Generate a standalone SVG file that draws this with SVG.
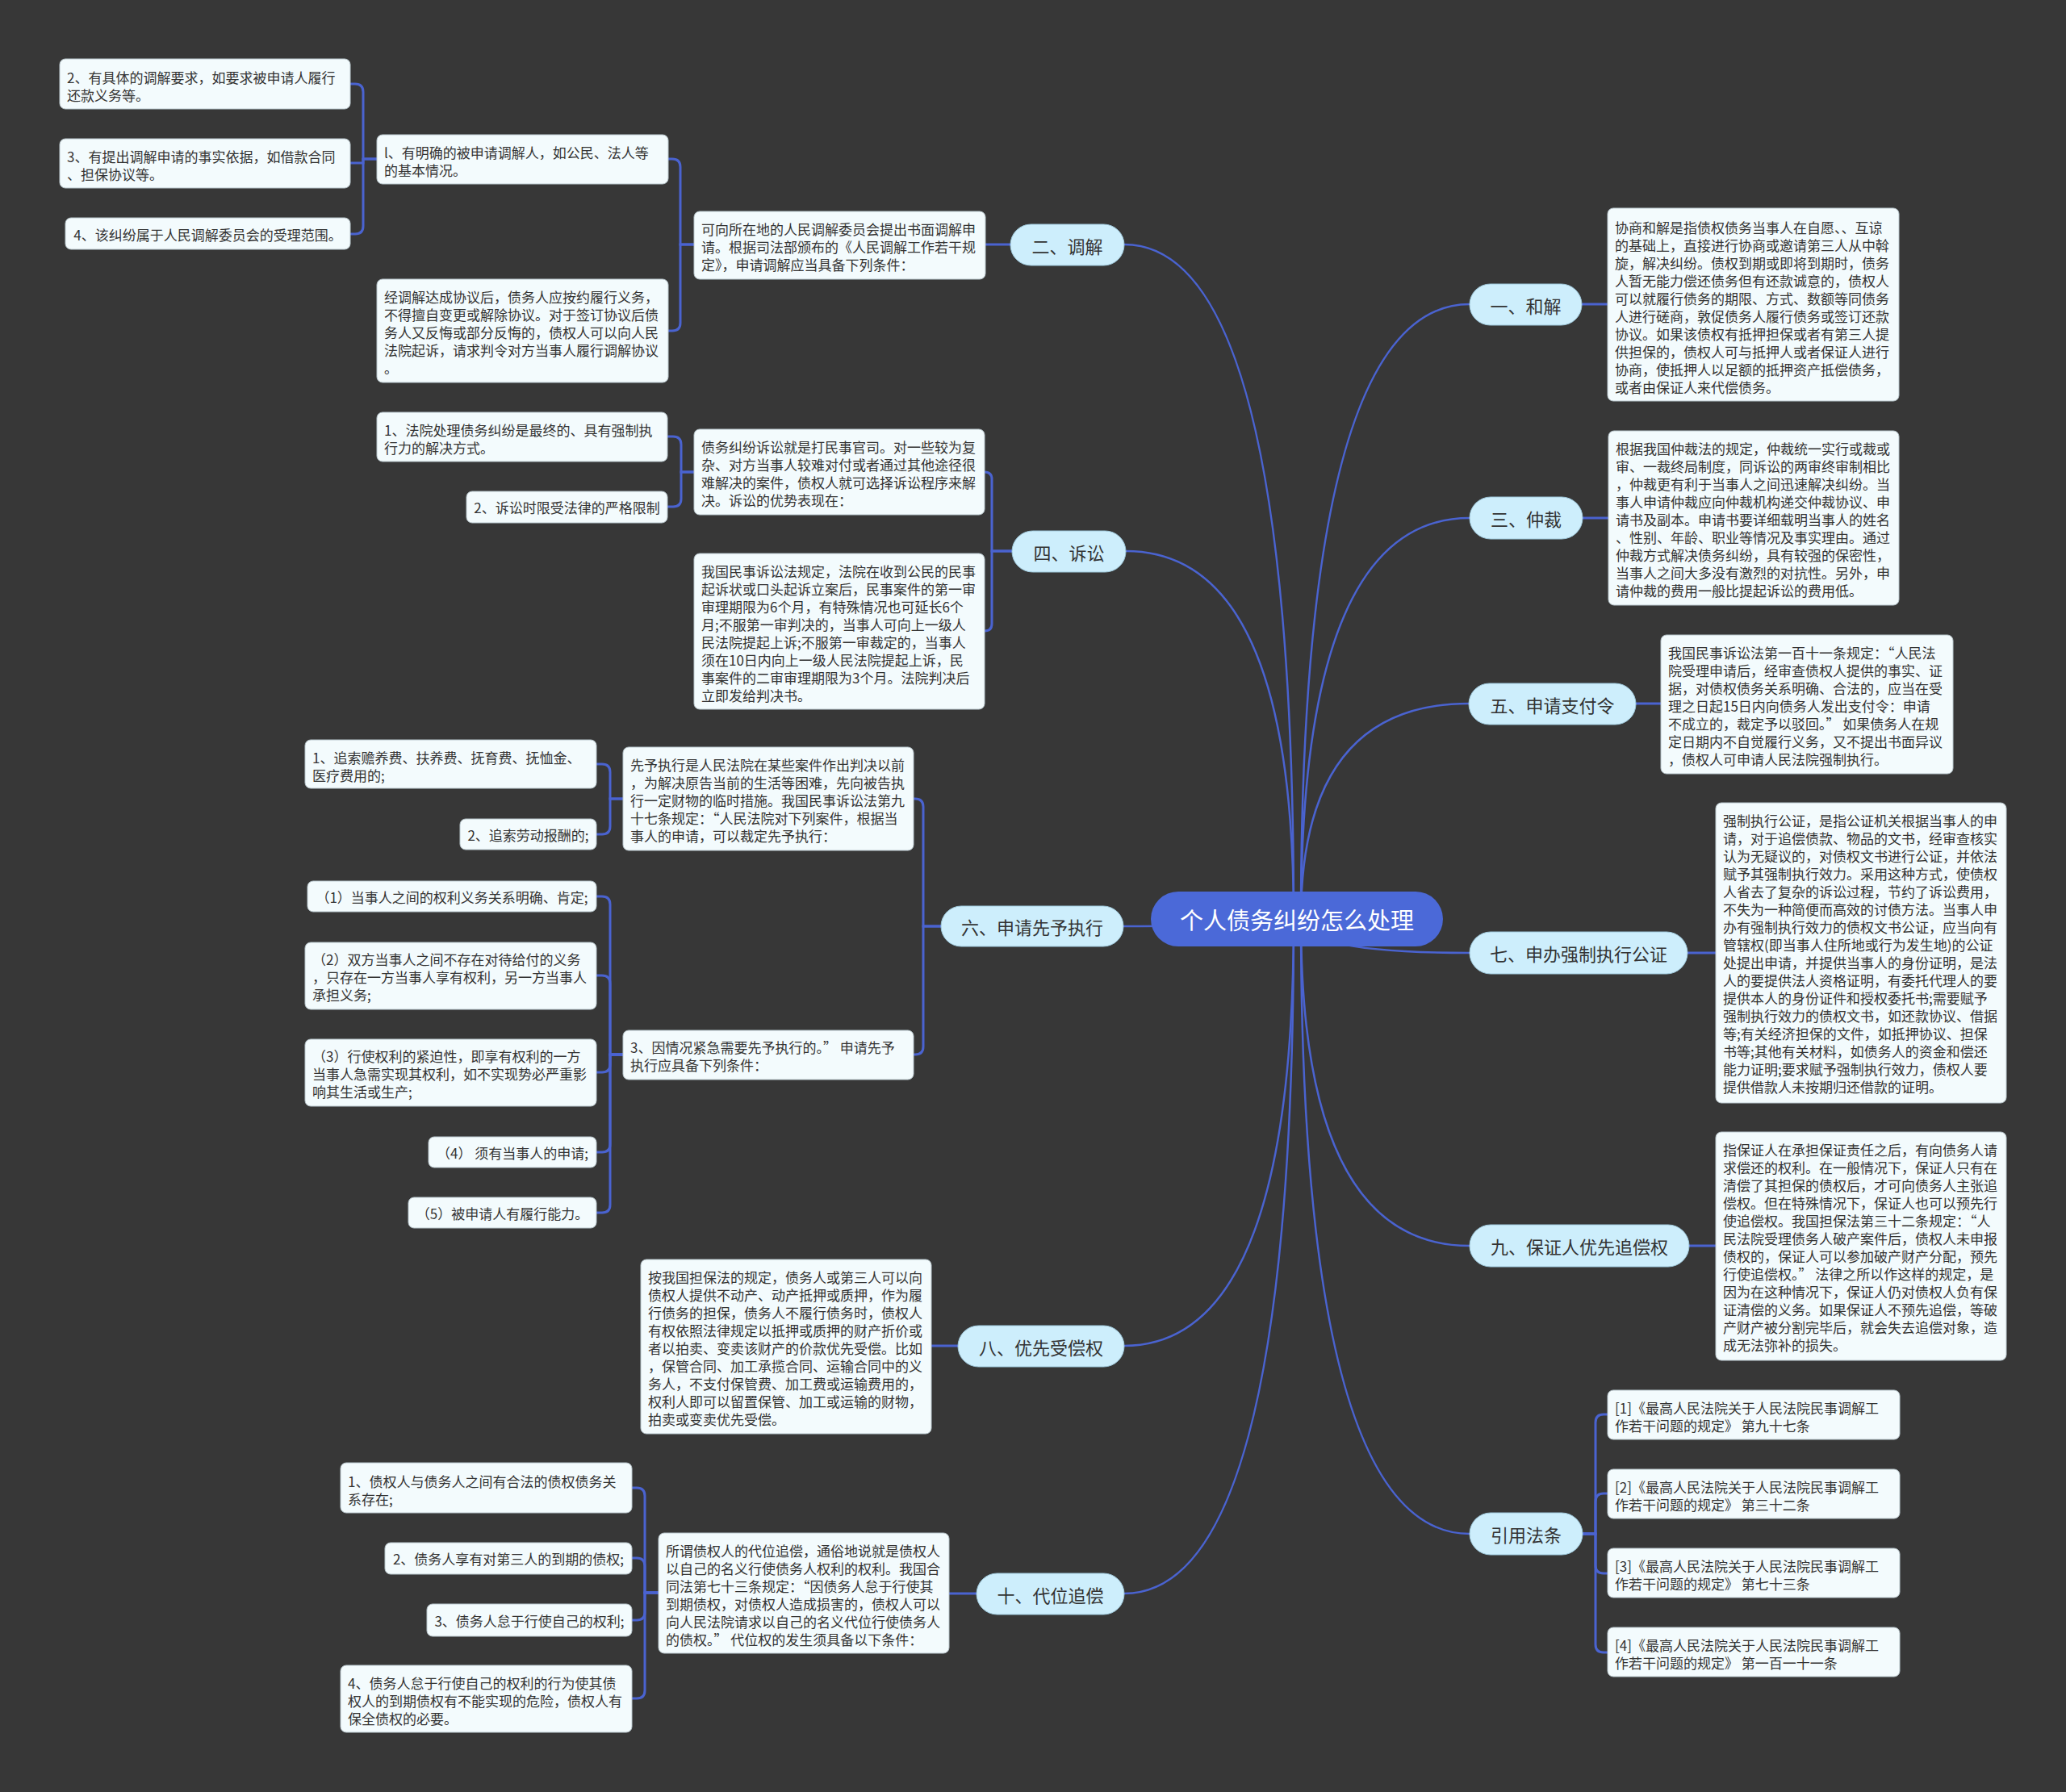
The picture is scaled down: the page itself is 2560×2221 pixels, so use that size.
<svg xmlns="http://www.w3.org/2000/svg" width="2560" height="2221" viewBox="0 0 2560 2221">
<style>
text{font-family:"Noto Sans CJK SC","Noto Sans",sans-serif;}
.box{fill:#f3fbfd;stroke:#b9c7cd;stroke-width:1;}
.t{font-size:17px;fill:#333;dominant-baseline:central;}
.tc{font-size:17px;fill:#333;dominant-baseline:central;text-anchor:middle;}
.n1{fill:#cdeefc;stroke:#9fc9dc;stroke-width:1;}
.nt{font-size:22px;fill:#333;dominant-baseline:central;text-anchor:middle;}
.root{fill:#4b69d8;}
.rt{font-size:29px;fill:#fff;dominant-baseline:central;text-anchor:middle;}
.ln{fill:none;stroke:#4a63d0;stroke-width:3;stroke-linecap:round;}
.mc{fill:none;stroke:#4a63d0;stroke-width:2.5;}
</style>
<rect width="2560" height="2221" fill="#373737"/>

<g id="connectors">
<path class="mc" d="M1603 1139 Q1603 303 1393 303"/>
<path class="mc" d="M1603 1139 Q1603 683 1395 683"/>
<path class="mc" d="M1603 1139 Q1603 1148 1392 1148"/>
<path class="mc" d="M1603 1139 Q1603 1668 1393 1668"/>
<path class="mc" d="M1603 1139 Q1603 1975 1393 1975"/>
<path class="mc" d="M1612 1139 Q1612 377 1821 377"/>
<path class="mc" d="M1612 1139 Q1612 642 1821 642"/>
<path class="mc" d="M1612 1139 Q1612 872 1820 872"/>
<path class="mc" d="M1612 1139 Q1612 1181 1821 1181"/>
<path class="mc" d="M1612 1139 Q1612 1544 1821 1544"/>
<path class="mc" d="M1612 1139 Q1612 1901 1821 1901"/>

<path class="ln" d="M467 197 H450 V114 Q450 104 440 104 H434"/>
<path class="ln" d="M450 197 V202 H434"/>
<path class="ln" d="M467 197 H450 V280 Q450 290 440 290 H434"/>

<path class="ln" d="M860 303 H843 V207 Q843 197 833 197 H828"/>
<path class="ln" d="M860 303 H843 V400 Q843 410 833 410 H828"/>
<path class="ln" d="M1252 303 H1221"/>

<path class="ln" d="M1254 683 H1229 V594 Q1229 585 1220 585"/>
<path class="ln" d="M1254 683 H1229 V773 Q1229 782 1220 782"/>
<path class="ln" d="M860 585 H844 V551 Q844 541 834 541 H827"/>
<path class="ln" d="M860 585 H844 V618 Q844 628 834 628 H827"/>

<path class="ln" d="M1166 1148 H1144 V1000 Q1144 990 1134 990 H1132"/>
<path class="ln" d="M1166 1148 H1144 V1297 Q1144 1307 1134 1307 H1132"/>
<path class="ln" d="M772 990 H756 V957 Q756 947 746 947 H739"/>
<path class="ln" d="M772 990 H756 V1024 Q756 1034 746 1034 H739"/>
<path class="ln" d="M772 1307 H756 V1121 Q756 1111 746 1111 H739"/>
<path class="ln" d="M772 1307 H756 V1219 Q756 1209 746 1209 H739"/>
<path class="ln" d="M772 1307 H756 V1319 Q756 1329 746 1329 H739"/>
<path class="ln" d="M772 1307 H756 V1418 Q756 1428 746 1428 H739"/>
<path class="ln" d="M772 1307 H756 V1493 Q756 1503 746 1503 H739"/>

<path class="ln" d="M1187 1668 H1154"/>
<path class="ln" d="M1210 1975 H1176"/>
<path class="ln" d="M816 1974 H799 V1854 Q799 1844 789 1844 H783"/>
<path class="ln" d="M816 1974 H799 V1941 Q799 1931 789 1931 H783"/>
<path class="ln" d="M816 1974 H799 V1998 Q799 2008 789 2008 H783"/>
<path class="ln" d="M816 1974 H799 V2095 Q799 2105 789 2105 H783"/>

<path class="ln" d="M1960 377 H1992"/>
<path class="ln" d="M1961 642 H1993"/>
<path class="ln" d="M2027 872 H2058"/>
<path class="ln" d="M2091 1181 H2126"/>
<path class="ln" d="M2093 1544 H2126"/>
<path class="ln" d="M1961 1901 H1977 V1763 Q1977 1753 1987 1753 H1992"/>
<path class="ln" d="M1961 1901 H1977 V1861 Q1977 1851 1987 1851 H1992"/>
<path class="ln" d="M1961 1901 H1977 V1940 Q1977 1950 1987 1950 H1992"/>
<path class="ln" d="M1961 1901 H1977 V2038 Q1977 2048 1987 2048 H1992"/>
</g>

<g id="root">
<rect class="root" x="1426" y="1105" width="362" height="68" rx="34"/>
<text class="rt" x="1607" y="1139">个人债务纠纷怎么处理</text>
</g>

<g id="n-hejie"><rect class="n1" x="1821" y="352" width="139" height="51" rx="25.5"/><text class="nt" x="1890.5" y="377.5">一、和解</text></g>
<g id="n-tiaojie"><rect class="n1" x="1252" y="278" width="141" height="51" rx="25.5"/><text class="nt" x="1322.5" y="303.5">二、调解</text></g>
<g id="n-zhongcai"><rect class="n1" x="1821" y="616" width="140" height="52" rx="26"/><text class="nt" x="1891" y="642">三、仲裁</text></g>
<g id="n-susong"><rect class="n1" x="1254" y="658" width="141" height="51" rx="25.5"/><text class="nt" x="1324.5" y="683.5">四、诉讼</text></g>
<g id="n-zhifuling"><rect class="n1" x="1820" y="847" width="207" height="51" rx="25.5"/><text class="nt" x="1923.5" y="872.5">五、申请支付令</text></g>
<g id="n-xianyu"><rect class="n1" x="1166" y="1123" width="226" height="50" rx="25"/><text class="nt" x="1279" y="1148">六、申请先予执行</text></g>
<g id="n-gongzheng"><rect class="n1" x="1821" y="1155" width="270" height="52" rx="26"/><text class="nt" x="1956" y="1181">七、申办强制执行公证</text></g>
<g id="n-youxian"><rect class="n1" x="1187" y="1643" width="206" height="51" rx="25.5"/><text class="nt" x="1290" y="1668.5">八、优先受偿权</text></g>
<g id="n-baozheng"><rect class="n1" x="1821" y="1518" width="272" height="52" rx="26"/><text class="nt" x="1957" y="1544">九、保证人优先追偿权</text></g>
<g id="n-daiwei"><rect class="n1" x="1210" y="1950" width="183" height="51" rx="25.5"/><text class="nt" x="1301.5" y="1975.5">十、代位追偿</text></g>
<g id="n-fatiao"><rect class="n1" x="1821" y="1875" width="140" height="52" rx="26"/><text class="nt" x="1891" y="1901">引用法条</text></g>

<g id="b-a1"><rect class="box" x="74" y="73" width="360" height="62" rx="7"/>
<text class="t" x="83" y="95">2、有具体的调解要求，如要求被申请人履行</text>
<text class="t" x="83" y="117">还款义务等。</text></g>
<g id="b-a2"><rect class="box" x="74" y="172" width="360" height="61" rx="7"/>
<text class="t" x="83" y="193">3、有提出调解申请的事实依据，如借款合同</text>
<text class="t" x="83" y="215">、担保协议等。</text></g>
<g id="b-a3"><rect class="box" x="81" y="270" width="353" height="39" rx="7"/>
<text class="tc" x="257.5" y="290">4、该纠纷属于人民调解委员会的受理范围。</text></g>
<g id="b-ai"><rect class="box" x="467" y="167" width="361" height="61" rx="7"/>
<text class="t" x="476" y="188">l、有明确的被申请调解人，如公民、法人等</text>
<text class="t" x="476" y="210">的基本情况。</text></g>
<g id="b-b"><rect class="box" x="467" y="346" width="361" height="128" rx="7"/>
<text class="t" x="476" y="367">经调解达成协议后，债务人应按约履行义务，</text>
<text class="t" x="476" y="389">不得擅自变更或解除协议。对于签订协议后债</text>
<text class="t" x="476" y="411">务人又反悔或部分反悔的，债权人可以向人民</text>
<text class="t" x="476" y="433">法院起诉，请求判令对方当事人履行调解协议</text>
<text class="t" x="476" y="455">。</text></g>
<g id="b-c"><rect class="box" x="860" y="262" width="361" height="84" rx="7"/>
<text class="t" x="869" y="283">可向所在地的人民调解委员会提出书面调解申</text>
<text class="t" x="869" y="305">请。根据司法部颁布的《人民调解工作若干规</text>
<text class="t" x="869" y="327">定》，申请调解应当具备下列条件：</text></g>

<g id="b-d1"><rect class="box" x="467" y="511" width="360" height="61" rx="7"/>
<text class="t" x="476" y="532">1、法院处理债务纠纷是最终的、具有强制执</text>
<text class="t" x="476" y="554">行力的解决方式。</text></g>
<g id="b-d2"><rect class="box" x="578" y="609" width="249" height="39" rx="7"/>
<text class="tc" x="702.5" y="628.5">2、诉讼时限受法律的严格限制</text></g>
<g id="b-e"><rect class="box" x="860" y="532" width="360" height="106" rx="7"/>
<text class="t" x="869" y="553">债务纠纷诉讼就是打民事官司。对一些较为复</text>
<text class="t" x="869" y="575">杂、对方当事人较难对付或者通过其他途径很</text>
<text class="t" x="869" y="597">难解决的案件，债权人就可选择诉讼程序来解</text>
<text class="t" x="869" y="619">决。诉讼的优势表现在：</text></g>
<g id="b-f"><rect class="box" x="860" y="686" width="360" height="193" rx="7"/>
<text class="t" x="869" y="707">我国民事诉讼法规定，法院在收到公民的民事</text>
<text class="t" x="869" y="729">起诉状或口头起诉立案后，民事案件的第一审</text>
<text class="t" x="869" y="751">审理期限为6个月，有特殊情况也可延长6个</text>
<text class="t" x="869" y="773">月;不服第一审判决的，当事人可向上一级人</text>
<text class="t" x="869" y="795">民法院提起上诉;不服第一审裁定的，当事人</text>
<text class="t" x="869" y="817">须在10日内向上一级人民法院提起上诉，民</text>
<text class="t" x="869" y="839">事案件的二审审理期限为3个月。法院判决后</text>
<text class="t" x="869" y="861">立即发给判决书。</text></g>

<g id="b-g1"><rect class="box" x="378" y="917" width="361" height="60" rx="7"/>
<text class="t" x="387" y="938">1、追索赡养费、扶养费、抚育费、抚恤金、</text>
<text class="t" x="387" y="960">医疗费用的;</text></g>
<g id="b-g2"><rect class="box" x="570" y="1015" width="169" height="38" rx="7"/>
<text class="tc" x="654.5" y="1034">2、追索劳动报酬的;</text></g>
<g id="b-h"><rect class="box" x="772" y="926" width="360" height="128" rx="7"/>
<text class="t" x="781" y="947">先予执行是人民法院在某些案件作出判决以前</text>
<text class="t" x="781" y="969">，为解决原告当前的生活等困难，先向被告执</text>
<text class="t" x="781" y="991">行一定财物的临时措施。我国民事诉讼法第九</text>
<text class="t" x="781" y="1013">十七条规定：“人民法院对下列案件，根据当</text>
<text class="t" x="781" y="1035">事人的申请，可以裁定先予执行：</text></g>
<g id="b-i1"><rect class="box" x="381" y="1092" width="358" height="38" rx="7"/>
<text class="tc" x="560" y="1111">（1）当事人之间的权利义务关系明确、肯定;</text></g>
<g id="b-i2"><rect class="box" x="378" y="1168" width="361" height="83" rx="7"/>
<text class="t" x="387" y="1188">（2）双方当事人之间不存在对待给付的义务</text>
<text class="t" x="387" y="1210">，只存在一方当事人享有权利，另一方当事人</text>
<text class="t" x="387" y="1232">承担义务;</text></g>
<g id="b-i3"><rect class="box" x="378" y="1288" width="361" height="83" rx="7"/>
<text class="t" x="387" y="1308">（3）行使权利的紧迫性，即享有权利的一方</text>
<text class="t" x="387" y="1330">当事人急需实现其权利，如不实现势必严重影</text>
<text class="t" x="387" y="1352">响其生活或生产;</text></g>
<g id="b-i4"><rect class="box" x="531" y="1409" width="208" height="38" rx="7"/>
<text class="tc" x="635" y="1428">（4） 须有当事人的申请;</text></g>
<g id="b-i5"><rect class="box" x="506" y="1484" width="233" height="38" rx="7"/>
<text class="tc" x="622.5" y="1503">（5）被申请人有履行能力。</text></g>
<g id="b-j"><rect class="box" x="772" y="1277" width="360" height="61" rx="7"/>
<text class="t" x="781" y="1297">3、因情况紧急需要先予执行的。” 申请先予</text>
<text class="t" x="781" y="1319">执行应具备下列条件：</text></g>

<g id="b-k"><rect class="box" x="794" y="1561" width="360" height="216" rx="7"/>
<text class="t" x="803" y="1582">按我国担保法的规定，债务人或第三人可以向</text>
<text class="t" x="803" y="1604">债权人提供不动产、动产抵押或质押，作为履</text>
<text class="t" x="803" y="1626">行债务的担保，债务人不履行债务时，债权人</text>
<text class="t" x="803" y="1648">有权依照法律规定以抵押或质押的财产折价或</text>
<text class="t" x="803" y="1670">者以拍卖、变卖该财产的价款优先受偿。比如</text>
<text class="t" x="803" y="1692">，保管合同、加工承揽合同、运输合同中的义</text>
<text class="t" x="803" y="1714">务人，不支付保管费、加工费或运输费用的，</text>
<text class="t" x="803" y="1736">权利人即可以留置保管、加工或运输的财物，</text>
<text class="t" x="803" y="1758">拍卖或变卖优先受偿。</text></g>

<g id="b-l1"><rect class="box" x="422" y="1813" width="361" height="62" rx="7"/>
<text class="t" x="431" y="1835">1、债权人与债务人之间有合法的债权债务关</text>
<text class="t" x="431" y="1857">系存在;</text></g>
<g id="b-l2"><rect class="box" x="477" y="1912" width="306" height="39" rx="7"/>
<text class="tc" x="630" y="1931.5">2、债务人享有对第三人的到期的债权;</text></g>
<g id="b-l3"><rect class="box" x="529" y="1988" width="254" height="40" rx="7"/>
<text class="tc" x="656" y="2008">3、债务人怠于行使自己的权利;</text></g>
<g id="b-l4"><rect class="box" x="422" y="2064" width="361" height="83" rx="7"/>
<text class="t" x="431" y="2085">4、债务人怠于行使自己的权利的行为使其债</text>
<text class="t" x="431" y="2107">权人的到期债权有不能实现的危险，债权人有</text>
<text class="t" x="431" y="2129">保全债权的必要。</text></g>
<g id="b-m"><rect class="box" x="816" y="1900" width="360" height="149" rx="7"/>
<text class="t" x="825" y="1921">所谓债权人的代位追偿，通俗地说就是债权人</text>
<text class="t" x="825" y="1943">以自己的名义行使债务人权利的权利。我国合</text>
<text class="t" x="825" y="1965">同法第七十三条规定：“因债务人怠于行使其</text>
<text class="t" x="825" y="1987">到期债权，对债权人造成损害的，债权人可以</text>
<text class="t" x="825" y="2009">向人民法院请求以自己的名义代位行使债务人</text>
<text class="t" x="825" y="2031">的债权。” 代位权的发生须具备以下条件：</text></g>

<g id="b-n"><rect class="box" x="1992" y="258" width="361" height="239" rx="7"/>
<text class="t" x="2001" y="281">协商和解是指债权债务当事人在自愿、、互谅</text>
<text class="t" x="2001" y="303">的基础上，直接进行协商或邀请第三人从中斡</text>
<text class="t" x="2001" y="325">旋，解决纠纷。债权到期或即将到期时，债务</text>
<text class="t" x="2001" y="347">人暂无能力偿还债务但有还款诚意的，债权人</text>
<text class="t" x="2001" y="369">可以就履行债务的期限、方式、数额等同债务</text>
<text class="t" x="2001" y="391">人进行磋商，敦促债务人履行债务或签订还款</text>
<text class="t" x="2001" y="413">协议。如果该债权有抵押担保或者有第三人提</text>
<text class="t" x="2001" y="435">供担保的，债权人可与抵押人或者保证人进行</text>
<text class="t" x="2001" y="457">协商，使抵押人以足额的抵押资产抵偿债务，</text>
<text class="t" x="2001" y="479">或者由保证人来代偿债务。</text></g>

<g id="b-o"><rect class="box" x="1993" y="534" width="360" height="216" rx="7"/>
<text class="t" x="2002" y="555">根据我国仲裁法的规定，仲裁统一实行或裁或</text>
<text class="t" x="2002" y="577">审、一裁终局制度，同诉讼的两审终审制相比</text>
<text class="t" x="2002" y="599">，仲裁更有利于当事人之间迅速解决纠纷。当</text>
<text class="t" x="2002" y="621">事人申请仲裁应向仲裁机构递交仲裁协议、申</text>
<text class="t" x="2002" y="643">请书及副本。申请书要详细载明当事人的姓名</text>
<text class="t" x="2002" y="665">、性别、年龄、职业等情况及事实理由。通过</text>
<text class="t" x="2002" y="687">仲裁方式解决债务纠纷，具有较强的保密性，</text>
<text class="t" x="2002" y="709">当事人之间大多没有激烈的对抗性。另外，申</text>
<text class="t" x="2002" y="731">请仲裁的费用一般比提起诉讼的费用低。</text></g>

<g id="b-p"><rect class="box" x="2058" y="787" width="362" height="172" rx="7"/>
<text class="t" x="2067" y="808">我国民事诉讼法第一百十一条规定：“人民法</text>
<text class="t" x="2067" y="830">院受理申请后，经审查债权人提供的事实、证</text>
<text class="t" x="2067" y="852">据，对债权债务关系明确、合法的，应当在受</text>
<text class="t" x="2067" y="874">理之日起15日内向债务人发出支付令：申请</text>
<text class="t" x="2067" y="896">不成立的，裁定予以驳回。” 如果债务人在规</text>
<text class="t" x="2067" y="918">定日期内不自觉履行义务，又不提出书面异议</text>
<text class="t" x="2067" y="940">，债权人可申请人民法院强制执行。</text></g>

<g id="b-q"><rect class="box" x="2126" y="995" width="360" height="372" rx="7"/>
<text class="t" x="2135" y="1016">强制执行公证，是指公证机关根据当事人的申</text>
<text class="t" x="2135" y="1038">请，对于追偿债款、物品的文书，经审查核实</text>
<text class="t" x="2135" y="1060">认为无疑议的，对债权文书进行公证，并依法</text>
<text class="t" x="2135" y="1082">赋予其强制执行效力。采用这种方式，使债权</text>
<text class="t" x="2135" y="1104">人省去了复杂的诉讼过程，节约了诉讼费用，</text>
<text class="t" x="2135" y="1126">不失为一种简便而高效的讨债方法。当事人申</text>
<text class="t" x="2135" y="1148">办有强制执行效力的债权文书公证，应当向有</text>
<text class="t" x="2135" y="1170">管辖权(即当事人住所地或行为发生地)的公证</text>
<text class="t" x="2135" y="1192">处提出申请，并提供当事人的身份证明，是法</text>
<text class="t" x="2135" y="1214">人的要提供法人资格证明，有委托代理人的要</text>
<text class="t" x="2135" y="1236">提供本人的身份证件和授权委托书;需要赋予</text>
<text class="t" x="2135" y="1258">强制执行效力的债权文书，如还款协议、借据</text>
<text class="t" x="2135" y="1280">等;有关经济担保的文件，如抵押协议、担保</text>
<text class="t" x="2135" y="1302">书等;其他有关材料，如债务人的资金和偿还</text>
<text class="t" x="2135" y="1324">能力证明;要求赋予强制执行效力，债权人要</text>
<text class="t" x="2135" y="1346">提供借款人未按期归还借款的证明。</text></g>

<g id="b-r"><rect class="box" x="2126" y="1403" width="360" height="283" rx="7"/>
<text class="t" x="2135" y="1424">指保证人在承担保证责任之后，有向债务人请</text>
<text class="t" x="2135" y="1446">求偿还的权利。在一般情况下，保证人只有在</text>
<text class="t" x="2135" y="1468">清偿了其担保的债权后，才可向债务人主张追</text>
<text class="t" x="2135" y="1490">偿权。但在特殊情况下，保证人也可以预先行</text>
<text class="t" x="2135" y="1512">使追偿权。我国担保法第三十二条规定：“人</text>
<text class="t" x="2135" y="1534">民法院受理债务人破产案件后，债权人未申报</text>
<text class="t" x="2135" y="1556">债权的，保证人可以参加破产财产分配，预先</text>
<text class="t" x="2135" y="1578">行使追偿权。” 法律之所以作这样的规定，是</text>
<text class="t" x="2135" y="1600">因为在这种情况下，保证人仍对债权人负有保</text>
<text class="t" x="2135" y="1622">证清偿的义务。如果保证人不预先追偿，等破</text>
<text class="t" x="2135" y="1644">产财产被分割完毕后，就会失去追偿对象，造</text>
<text class="t" x="2135" y="1666">成无法弥补的损失。</text></g>

<g id="b-s1"><rect class="box" x="1992" y="1723" width="362" height="61" rx="7"/>
<text class="t" x="2001" y="1744">[1]《最高人民法院关于人民法院民事调解工</text>
<text class="t" x="2001" y="1766">作若干问题的规定》 第九十七条</text></g>
<g id="b-s2"><rect class="box" x="1992" y="1821" width="362" height="61" rx="7"/>
<text class="t" x="2001" y="1842">[2]《最高人民法院关于人民法院民事调解工</text>
<text class="t" x="2001" y="1864">作若干问题的规定》 第三十二条</text></g>
<g id="b-s3"><rect class="box" x="1992" y="1919" width="362" height="61" rx="7"/>
<text class="t" x="2001" y="1940">[3]《最高人民法院关于人民法院民事调解工</text>
<text class="t" x="2001" y="1962">作若干问题的规定》 第七十三条</text></g>
<g id="b-s4"><rect class="box" x="1992" y="2017" width="362" height="61" rx="7"/>
<text class="t" x="2001" y="2038">[4]《最高人民法院关于人民法院民事调解工</text>
<text class="t" x="2001" y="2060">作若干问题的规定》 第一百一十一条</text></g>
</svg>
